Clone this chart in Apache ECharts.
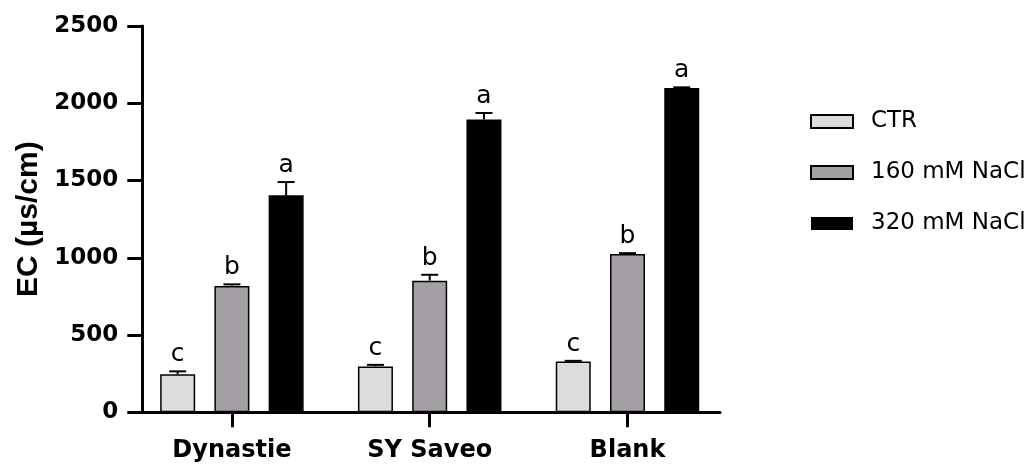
<!DOCTYPE html>
<html>
<head>
<meta charset="utf-8">
<script src="https://cdn.jsdelivr.net/npm/echarts@6/dist/echarts.min.js"></script>
<style>
html,body{margin:0;padding:0;background:#fff;}
#chart{width:1029px;height:465px;}
</style>
</head>
<body>
<div id="chart"></div>
<script>
const categories = ['Dynastie', 'SY Saveo', 'Blank'];
const seriesNames = ['CTR', '160 mM NaCl', '320 mM NaCl'];
const ctrValues = [246, 297, 328];
const ctrErrors = [19, 10, 5];
const ctrLetters = ['c', 'c', 'c'];
const nacl160Values = [818, 852, 1025];
const nacl160Errors = [10, 38, 5];
const nacl160Letters = ['b', 'b', 'b'];
const nacl320Values = [1404, 1895, 2098];
const nacl320Errors = [86, 42, 5];
const nacl320Letters = ['a', 'a', 'a'];

const colors = ['#dcdcdc', '#a39fa4', '#000000'];
const values = [ctrValues, nacl160Values, nacl320Values];
const errors = [ctrErrors, nacl160Errors, nacl320Errors];
const letters = [ctrLetters, nacl160Letters, nacl320Letters];

const BAR_W = 35;
const BAR_GAP = 0.55;
const STEP = BAR_W * (1 + BAR_GAP);

const chart = echarts.init(document.getElementById('chart'), null, {renderer: 'canvas'});

const series = [];
seriesNames.forEach((name, i) => {
  series.push({
    name: name,
    type: 'bar',
    xAxisIndex: 0,
    yAxisIndex: 0,
    barWidth: BAR_W,
    barGap: (BAR_GAP * 100) + '%',
    data: values[i],
    itemStyle: {color: colors[i], borderColor: '#000', borderWidth: i === 2 ? 0 : 1.5},
    z: 2
  });
});
seriesNames.forEach((name, i) => {
  const offset = (i - 1) * STEP;
  series.push({
    name: name + ' err',
    type: 'custom',
    xAxisIndex: 0,
    yAxisIndex: 0,
    z: 5,
    data: categories.map((c, k) => [k, values[i][k], errors[i][k]]),
    renderItem: function (params, api) {
      const idx = api.value(0);
      const v = api.value(1);
      const e = api.value(2);
      const base = api.coord([idx, v]);
      const top = api.coord([idx, v + e]);
      const x = base[0] + offset;
      return {
        type: 'group',
        children: [
          {type: 'line', shape: {x1: x, y1: base[1], x2: x, y2: top[1]}, style: {stroke: '#000', lineWidth: 2}},
          {type: 'line', shape: {x1: x - 8.5, y1: top[1], x2: x + 8.5, y2: top[1]}, style: {stroke: '#000', lineWidth: 2}},
          {type: 'text', x: x, y: top[1] - 4, style: {text: letters[i][params.dataIndex], fill: '#000', font: '25px "DejaVu Sans"', align: 'center', verticalAlign: 'bottom'}}
        ]
      };
    }
  });
});

const option = {
  animation: false,
  backgroundColor: '#fff',
  grid: [
    {left: 133, width: 593.4, top: 26, height: 386.3},
    {left: 142.3, width: 577.7, top: 26, height: 386.3}
  ],
  legend: {
    data: seriesNames.map(n => ({name: n, icon: 'rect'})),
    orient: 'vertical',
    left: 805,
    top: 103,
    itemWidth: 42,
    itemHeight: 13,
    itemGap: 24,
    textStyle: {fontFamily: 'DejaVu Sans', fontSize: 23, color: '#000', lineHeight: 27, padding: [0, 0, 0, 13]}
  },
  xAxis: [
    {
      type: 'category', gridIndex: 0, data: categories,
      axisLine: {show: false},
      axisTick: {show: true, alignWithLabel: true, length: 15, lineStyle: {color: '#000', width: 3}},
      axisLabel: {fontFamily: 'DejaVu Sans', fontWeight: 'bold', fontSize: 24, color: '#000', margin: 24, lineHeight: 28},
      splitLine: {show: false}
    },
    {
      type: 'value', gridIndex: 1, min: 0, max: 1,
      axisLine: {show: true, onZero: false, lineStyle: {color: '#000', width: 3}},
      axisTick: {show: false}, axisLabel: {show: false}, splitLine: {show: false}
    }
  ],
  yAxis: [
    {type: 'value', gridIndex: 0, min: 0, max: 2500, show: false, splitLine: {show: false}},
    {
      type: 'value', gridIndex: 1, min: 0, max: 2500, interval: 500,
      name: 'EC (µs/cm)', nameLocation: 'middle', nameRotate: 90, nameGap: 95,
      nameTextStyle: {fontFamily: 'Liberation Sans', fontWeight: 'bold', fontSize: 30, color: '#000'},
      axisLine: {show: true, onZero: false, lineStyle: {color: '#000', width: 3}},
      axisTick: {show: true, length: 15, lineStyle: {color: '#000', width: 3}},
      axisLabel: {fontFamily: 'DejaVu Sans', fontWeight: 'bold', fontSize: 23, color: '#000', margin: 24,
        padding: [4, 0, 0, 0], formatter: function (v) { return String(v); }},
      splitLine: {show: false}
    }
  ],
  series: series
};
chart.setOption(option);
</script>
</body>
</html>
